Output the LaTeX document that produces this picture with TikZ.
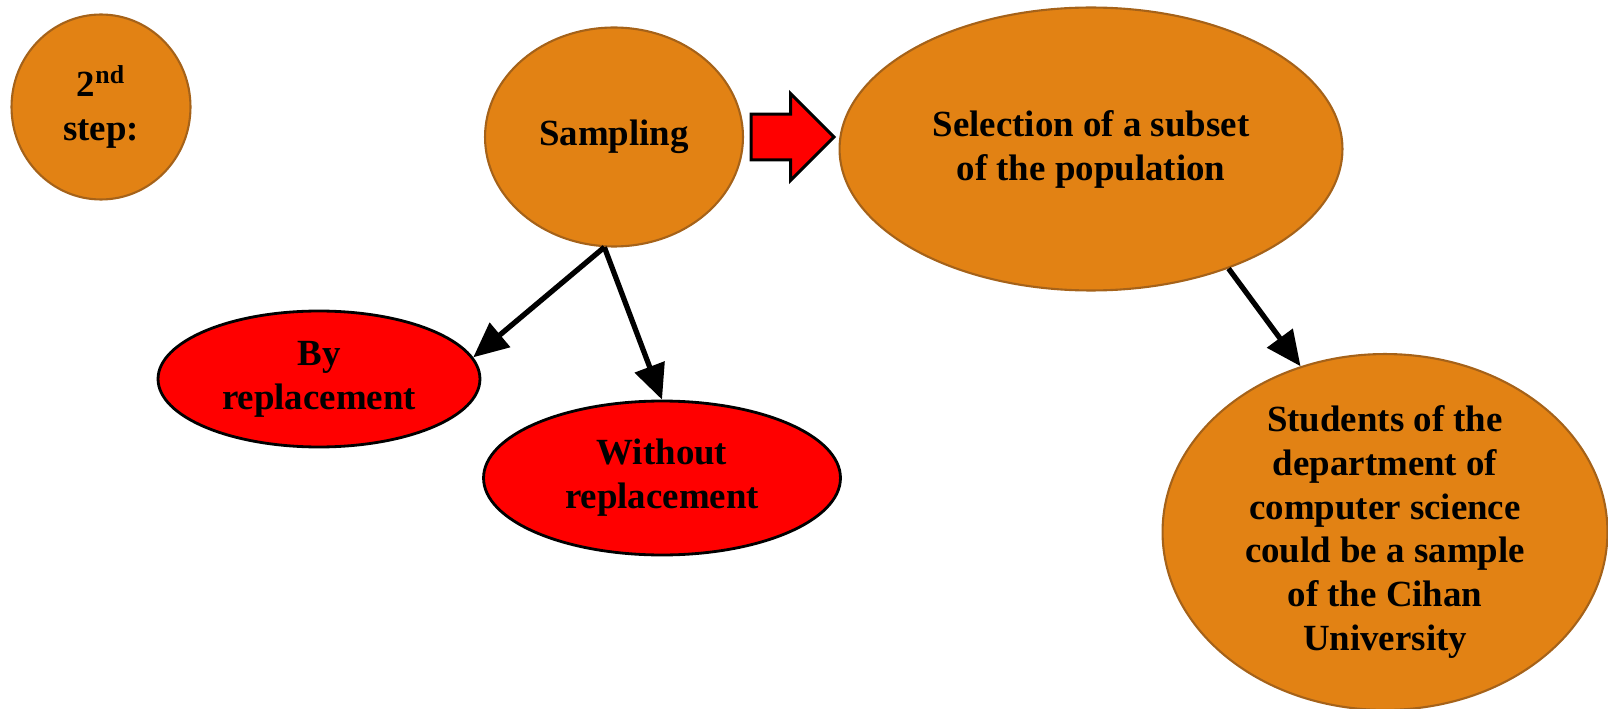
\documentclass[tikz,border=0pt]{standalone}
\usepackage{fontspec}
\setmainfont{Liberation Serif}
\usetikzlibrary{shapes.geometric,shapes.arrows,arrows.meta}

\definecolor{bubfill}{RGB}{226,130,20}
\definecolor{bubline}{RGB}{165,98,25}

\tikzset{
  bubble/.style={ellipse, fill=bubfill, draw=bubline, line width=1.2pt, inner sep=0pt,
    align=center, font=\fontsize{21}{25}\selectfont\bfseries},
  redbubble/.style={bubble, fill=red, draw=black, line width=1.6pt},
  bubbletext/.style={align=center, inner sep=0pt, font=\fontsize{21}{25}\selectfont\bfseries},
  link/.style={-{Triangle[length=0.7cm,width=0.62cm]}, line width=3pt},
  blockarrow/.style={single arrow, fill=red, draw=black, line width=1.7pt, inner xsep=0pt,
    inner ysep=0.43cm, minimum height=1.66cm, single arrow head extend=0.41cm}
}

\begin{document}
\begin{tikzpicture}[x=0.02cm, y=-0.02cm]

\useasboundingbox (0,0) rectangle (1608,709);

\node at (101,107) (step) [bubble, minimum width=3.58cm, minimum height=3.7cm] {2\textsuperscript{nd}\\step:};
\node at (614,137) (samp) [bubble, minimum width=5.16cm, minimum height=4.38cm] {Sampling};
\node at (1091,149) (sel) [bubble, minimum width=10.06cm, minimum height=5.66cm] {Selection of a subset\\of the population};
\node at (319,379) (byrep) [redbubble, minimum width=6.44cm, minimum height=2.72cm] {By\\replacement};
\node at (662,478) (worep) [redbubble, minimum width=7.14cm, minimum height=3.08cm] {Without\\replacement};
\node at (1385,532) (stud) [bubble, minimum width=8.9cm, minimum height=7.12cm] {};
\node at (stud) (studtext) [bubbletext] {Students of the\\department of\\computer science\\could be a sample\\of the Cihan\\University};

\node at (781,137) (gostep) [blockarrow] {};

\draw[link] (samp.265) -- (byrep.8);
\draw[link] (samp.265) -- (worep.north);
\draw[link] (sel.319) -- (stud.117);

\end{tikzpicture}
\end{document}
